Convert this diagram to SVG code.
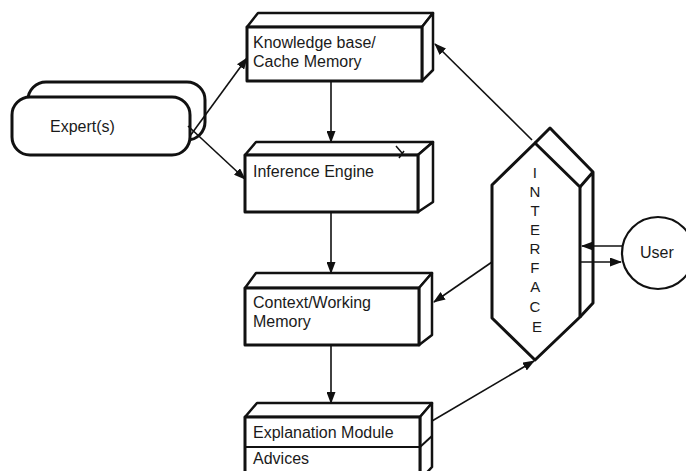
<svg xmlns="http://www.w3.org/2000/svg" width="686" height="471" viewBox="0 0 686 471">
  <defs>
    <marker id="arrow" markerWidth="12" markerHeight="9" refX="11" refY="4.5" orient="auto" markerUnits="userSpaceOnUse">
      <path d="M0,0 L12,4.5 L0,9 Z" fill="#111"/>
    </marker>
    <style>
      .box { fill: #fff; stroke: #111; stroke-width: 3; stroke-linejoin: round; }
      .face { fill: #fff; stroke: #111; stroke-width: 2.5; stroke-linejoin: round; }
      .lbl { font-family: "Liberation Sans", Arial, sans-serif; font-size: 16px; fill: #1a1a1a; }
      .conn { stroke: #111; stroke-width: 1.6; fill: none; }
      .hex { fill: #fff; stroke: #111; stroke-width: 3; stroke-linejoin: round; }
      .letters { font-family: "Liberation Sans", Arial, sans-serif; font-size: 15px; fill: #1a1a1a; text-anchor: middle; }
    </style>
  </defs>
  <rect width="686" height="471" fill="#fff"/>

  <!-- Expert(s): two stacked rounded boxes -->
  <g id="expert">
    <rect x="28" y="82" width="177" height="58" rx="18" class="box" stroke-width="2.5"/>
    <rect x="12" y="97" width="178" height="58" rx="18" class="box" stroke-width="2.5"/>
    <text x="50" y="132" class="lbl">Expert(s)</text>
  </g>

  <!-- Knowledge base / Cache Memory -->
  <g id="knowledge-base">
    <polygon points="247,27 258,13 433,13 422,27" class="face"/>
    <polygon points="422,27 433,13 433,70 422,81" class="face"/>
    <rect x="247" y="27" width="175" height="54" class="box"/>
    <text x="253" y="48" class="lbl">Knowledge base/</text>
    <text x="253" y="67" class="lbl">Cache Memory</text>
  </g>

  <!-- Inference Engine -->
  <g id="inference-engine">
    <polygon points="245,155 256,142 433,142 418,155" class="face"/>
    <polygon points="418,155 433,142 433,202 418,212" class="face"/>
    <rect x="245" y="155" width="173" height="57" class="box"/>
    <text x="253" y="177" class="lbl">Inference Engine</text>
    <path d="M396,146 L402,153 M399,158 L404,151" stroke="#111" stroke-width="1.5" fill="none"/>
  </g>

  <!-- Context / Working Memory -->
  <g id="context-memory">
    <polygon points="245,288 256,273 432,273 419,288" class="face"/>
    <polygon points="419,288 432,273 432,335 419,345" class="face"/>
    <rect x="245" y="288" width="174" height="57" class="box"/>
    <text x="253" y="308" class="lbl">Context/Working</text>
    <text x="253" y="327" class="lbl">Memory</text>
  </g>

  <!-- Explanation Module / Advices -->
  <g id="explanation-module">
    <polygon points="245,417 257,403 432,403 420,417" class="face"/>
    <polygon points="420,417 432,403 432,467 420,480" class="face"/>
    <rect x="245" y="417" width="175" height="63" class="box"/>
    <line x1="245" y1="447" x2="420" y2="447" stroke="#111" stroke-width="2"/>
    <line x1="420" y1="447" x2="432" y2="436" stroke="#111" stroke-width="2"/>
    <text x="253" y="438" class="lbl">Explanation Module</text>
    <text x="253" y="464" class="lbl">Advices</text>
  </g>

  <!-- Interface: extruded hexagon -->
  <g id="interface">
    <path d="M535,143 L550,128 L593,172 L593,303 L580,317 M580,187 L593,172" class="hex" fill="none"/>
    <polygon points="535,143 580,187 580,317 535,360 492,318 492,185" class="hex"/>
    <text class="letters">
      <tspan x="537" y="178">I</tspan>
      <tspan x="537" y="197">N</tspan>
      <tspan x="537" y="216">T</tspan>
      <tspan x="537" y="235">E</tspan>
      <tspan x="537" y="254">R</tspan>
      <tspan x="537" y="273">F</tspan>
      <tspan x="537" y="292">A</tspan>
      <tspan x="537" y="312">C</tspan>
      <tspan x="537" y="332">E</tspan>
    </text>
  </g>

  <!-- User -->
  <g id="user">
    <circle cx="658" cy="253" r="36" fill="#fff" stroke="#111" stroke-width="2.2"/>
    <text x="640" y="258" class="lbl" font-size="15">User</text>
  </g>

  <!-- Connectors -->
  <g id="connectors">
    <line x1="190" y1="136" x2="247" y2="58" class="conn" marker-end="url(#arrow)"/>
    <line x1="188" y1="126" x2="245" y2="179" class="conn" marker-end="url(#arrow)"/>
    <line x1="331" y1="81" x2="331" y2="142" class="conn" marker-end="url(#arrow)"/>
    <line x1="331" y1="212" x2="331" y2="273" class="conn" marker-end="url(#arrow)"/>
    <line x1="331" y1="345" x2="331" y2="403" class="conn" marker-end="url(#arrow)"/>
    <line x1="532" y1="140" x2="435" y2="44" class="conn" marker-end="url(#arrow)"/>
    <line x1="492" y1="262" x2="434" y2="302" class="conn" marker-end="url(#arrow)"/>
    <line x1="432" y1="421" x2="534" y2="361" class="conn" marker-end="url(#arrow)"/>
    <line x1="622" y1="246" x2="582" y2="246" class="conn" marker-end="url(#arrow)"/>
    <line x1="580" y1="262" x2="621" y2="262" class="conn" marker-end="url(#arrow)"/>
  </g>
</svg>
